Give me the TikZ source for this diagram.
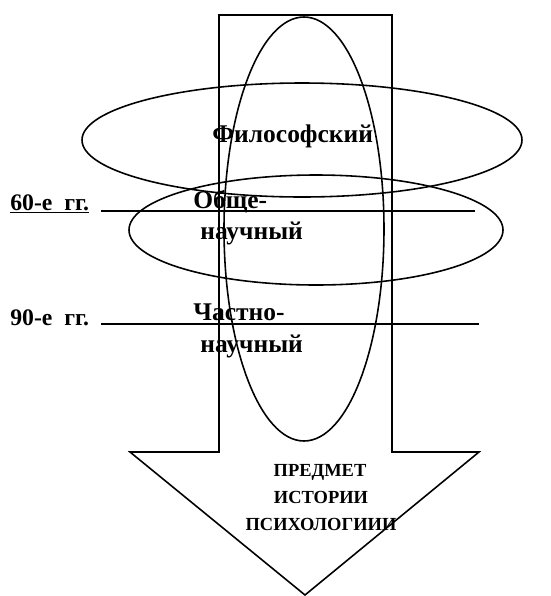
\documentclass[tikz,border=0pt]{standalone}
\usepackage{fontspec}
\setmainfont{Liberation Serif}

\begin{document}
\begin{tikzpicture}[x=0.02cm, y=-0.02cm,
        every node/.style={font=\bfseries, inner sep=0pt},
        bigtext/.style={font=\bfseries\fontsize{14.5}{16}\selectfont, anchor=base west},
        yeartext/.style={font=\bfseries\fontsize{13.5}{15}\selectfont, anchor=base west},
        arrowtext/.style={font=\bfseries\fontsize{10.5}{12}\selectfont, anchor=base},
        outline/.style={draw, line width=0.9pt}]
        \useasboundingbox (0,0) rectangle (551,596);

        % Big arrow
        \draw[outline, line join=miter] (219,15) -- (392,15) -- (392,452) -- (479,452) -- (305,595)
            -- (130,452) -- (219,452) -- cycle;

        % Ovals
        \draw[outline] (304,229) ellipse [x radius=80, y radius=212];
        \draw[outline] (302,140) ellipse [x radius=220, y radius=57];
        \draw[outline] (316,230) ellipse [x radius=187, y radius=55];

        % Year lines
        \coordinate (l60a) at (101,211);
        \coordinate (l60b) at (475,211);
        \coordinate (l90a) at (101,324);
        \coordinate (l90b) at (479,324);
        \draw[line width=1.6pt] (l60a) -- (l60b);
        \draw[line width=0.8pt] (l90a) -- (l90b);

        % Labels
        \node[yeartext] (y60) at (10,210) {\underline{60-е\ \ гг.}};
        \node[yeartext] (y90) at (10,325) {90-е\ \ гг.};

        \node[bigtext] (phil) at (212,142) {Философский};
        \node[bigtext] (gen1) at (193,208) {Обще-};
        \node[bigtext] (gen2) at (200,239) {научный};
        \node[bigtext] (part1) at (193,320) {Частно-};
        \node[bigtext] (part2) at (200,352) {научный};

        \node[arrowtext] (subj1) at (320,476) {ПРЕДМЕТ};
        \node[arrowtext] (subj2) at (321,503) {ИСТОРИИ};
        \node[arrowtext] (subj3) at (321,530) {ПСИХОЛОГИИИ};
    \end{tikzpicture}
\end{document}
